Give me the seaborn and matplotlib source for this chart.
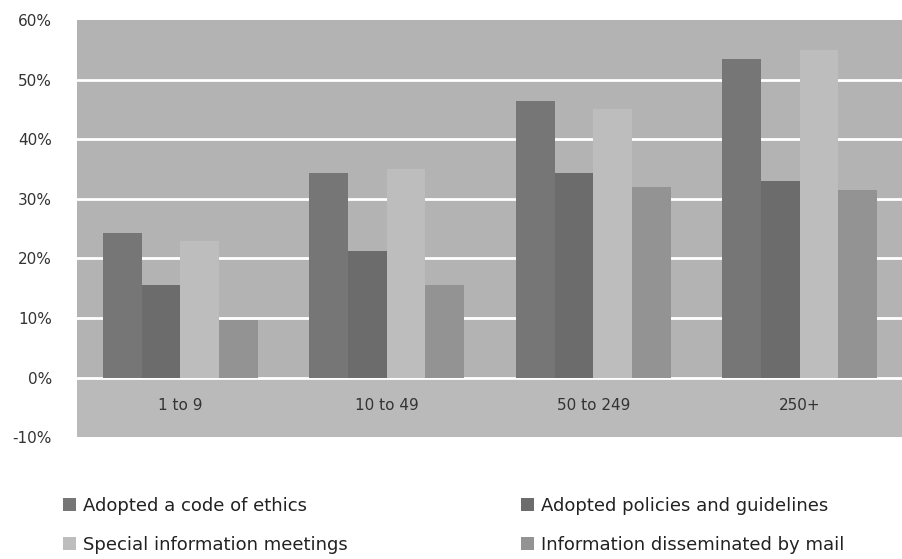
import numpy as np
import pandas as pd
import matplotlib
matplotlib.use("Agg")
import matplotlib.pyplot as plt
import seaborn as sns

# data (percent)
sizes = ["1 to 9", "10 to 49", "50 to 249", "250+"]
series_names = [
    "Adopted a code of ethics",
    "Adopted policies and guidelines",
    "Special information meetings",
    "Information disseminated by mail",
]
code_of_ethics = [24.3, 34.3, 46.5, 53.5]
policies_guidelines = [15.5, 21.2, 34.3, 33.0]
info_meetings = [23.0, 35.0, 45.0, 55.0]
info_by_mail = [9.7, 15.5, 32.0, 31.5]
y_ticks = [-10, 0, 10, 20, 30, 40, 50, 60]

bar_colors = ["#767676", "#6c6c6c", "#bdbdbd", "#939393"]

df = pd.DataFrame({
    "size": sizes * 4,
    "series": np.repeat(series_names, len(sizes)),
    "value": code_of_ethics + policies_guidelines + info_meetings + info_by_mail,
})

sns.set_style("white")
plt.rcParams["font.family"] = ["DejaVu Sans"]

fig = plt.figure(figsize=(9.03, 5.59), dpi=100)
ax = fig.add_axes([0.0853, 0.218, 0.9147, 0.746])
ax.set_facecolor("#b3b3b3")

# lighter floor band below zero
ax.axhspan(-10, 0, color="#bababa", zorder=0)

sns.barplot(data=df, x="size", y="value", hue="series", palette=bar_colors,
            width=0.75, saturation=1, ax=ax, zorder=3, edgecolor="none")

ax.set_ylim(-10, 60)
ax.set_xlim(-0.5, 3.5)
ax.set_yticks(y_ticks)
ax.set_yticklabels([f"{t}%" for t in y_ticks], fontsize=11, color="#333333")
for t in y_ticks[1:-1]:
    ax.axhline(t, color="white", linewidth=2, zorder=1)
ax.set_xlabel("")
ax.set_ylabel("")
ax.tick_params(axis="x", length=0, pad=-28, labelsize=11, labelcolor="#333333")
ax.tick_params(axis="y", length=0, pad=18)
for sp in ax.spines.values():
    sp.set_visible(False)

handles, labels = ax.get_legend_handles_labels()
ax.get_legend().remove()
order = [0, 2, 1, 3]
fig.legend([handles[i] for i in order], [labels[i] for i in order],
           loc="upper left", bbox_to_anchor=(0.052, 0.14), ncol=2,
           frameon=False, fontsize=13, handlelength=0.7, handleheight=0.7,
           handletextpad=0.4, columnspacing=9.6, labelspacing=1.15,
           labelcolor="#222222")

fig.savefig("out.png", dpi=100)
